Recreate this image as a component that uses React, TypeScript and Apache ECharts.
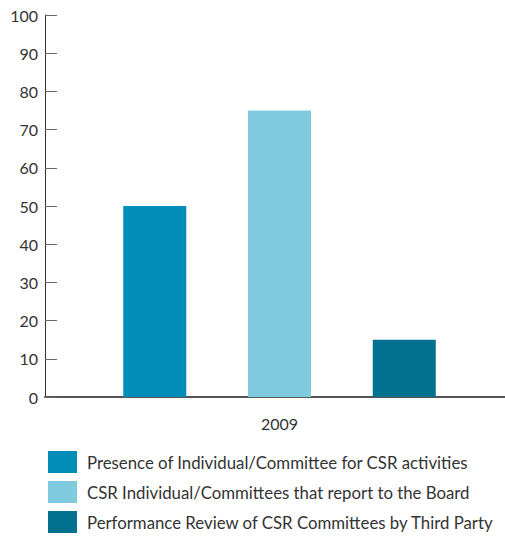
import React, { useEffect, useRef } from "react";
import * as echarts from "echarts";

const categories = ["2009"];
const seriesNames = [
  "Presence of Individual/Committee for CSR activities",
  "CSR Individual/Committees that report to the Board",
  "Performance Review of CSR Committees by Third Party",
];
const seriesValues = [[50], [75], [15]];
const seriesColors = ["#008DB8", "#80CBDF", "#02708F"];

export default function App() {
  const ref = useRef<HTMLDivElement>(null);
  useEffect(() => {
    if (!ref.current) return;
    const chart = echarts.init(ref.current, null, { renderer: "svg" });
    const font = "Lato, 'Noto Sans', sans-serif";
    chart.setOption({
      animation: false,
      grid: {
        left: 45,
        right: -9,
        top: 15,
        bottom: 140,
        containLabel: false,
        outerBoundsMode: "none",
      },
      legend: {
        orient: "vertical",
        left: 48,
        top: 451,
        height: 90,
        padding: 0,
        itemWidth: 29,
        itemHeight: 22,
        itemGap: 8,
        icon: "rect",
        selectedMode: false,
        textStyle: { fontFamily: font, fontSize: 16.8, color: "#333", padding: [0, 0, 0, 5] },
        data: seriesNames,
      },
      xAxis: {
        type: "category",
        data: categories,
        axisLine: { lineStyle: { color: "#555", width: 2 } },
        axisTick: { show: false },
        axisLabel: { fontFamily: font, fontSize: 16, color: "#333", margin: 18 },
      },
      yAxis: {
        type: "value",
        min: 0,
        max: 100,
        interval: 10,
        axisLine: { show: true, lineStyle: { color: "#333", width: 1 } },
        axisTick: { show: true, inside: true, length: 12, lineStyle: { color: "#666" } },
        splitLine: { show: false },
        axisLabel: { fontFamily: font, fontSize: 16, color: "#333", margin: 7 },
      },
      series: seriesNames.map((name, i) => ({
        name,
        type: "bar",
        data: seriesValues[i],
        barWidth: 63,
        barGap: "98%",
        itemStyle: { color: seriesColors[i] },
      })),
    });
    return () => chart.dispose();
  }, []);
  return (
    <div
      ref={ref}
      style={{ position: "fixed", left: 0, top: 0, width: 505, height: 537, background: "#fff" }}
    />
  );
}
